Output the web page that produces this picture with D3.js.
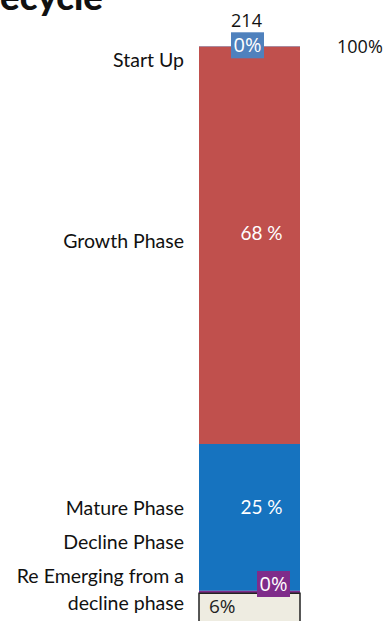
<!DOCTYPE html>
<html>
<head>
<meta charset="utf-8">
<script src="https://cdn.jsdelivr.net/npm/d3@7"></script>
<style>
  html, body { margin: 0; padding: 0; background: #fff; overflow: hidden; }
  svg { display: block; }
</style>
</head>
<body>
<div id="chart"></div>
<script>
// data
var categories = ["Start Up", "Growth Phase", "Mature Phase", "Decline Phase", "Re Emerging from a decline phase"];
var labelLines = [["Start Up"], ["Growth Phase"], ["Mature Phase"], ["Decline Phase"], ["Re Emerging from a", "decline phase"]];
var shares = [0.1, 68.2, 25.2, 0.4, 6.1];   // percent of respondents
var colors = ["#4f81bd", "#c0504d", "#1673bf", "#7f2c8a", "#eeece1"];
var responses = 214;
var totalLabel = "100%";

var w = 385, h = 621;

var svg = d3.select("#chart").append("svg")
    .attr("width", w)
    .attr("height", h);

// title, cut by the top-left edge as in the picture
var title = svg.append("text")
    .attr("y", 10)
    .attr("font-family", "Lato, 'Roboto', sans-serif")
    .attr("font-weight", 900)
    .attr("font-size", 32)
    .attr("fill", "#111");
var hidden = title.append("tspan").text("Lif");
var shown = title.append("tspan").text("ecycle");
var fs = 32 * 103 / shown.node().getComputedTextLength();
title.attr("font-size", fs);
title.attr("x", -hidden.node().getComputedTextLength());

// stack the single bar
var rows = [{}];
categories.forEach(function (c, i) { rows[0][c] = shares[i]; });
var series = d3.stack().keys(categories)(rows);

var xScale = d3.scaleBand().domain(["all"]).range([199, 300]).padding(0);
var yScale = d3.scaleLinear().domain([0, 100]).range([46, 628.7]);

var bx = xScale("all"), bw = xScale.bandwidth(), cx = bx + bw / 2;

svg.selectAll("rect.seg")
    .data(series)
    .enter().append("rect")
    .attr("class", "seg")
    .attr("x", bx)
    .attr("width", bw)
    .attr("y", function (d) { return yScale(d[0][0]); })
    .attr("height", function (d) { return yScale(d[0][1]) - yScale(d[0][0]); })
    .attr("fill", function (d, i) { return colors[i]; });

// dark outline on the last (light) segment
var last = series[series.length - 1][0];
svg.append("path")
    .attr("d", "M" + bx + "," + (yScale(100) + 2) + "V" + yScale(last[0]) + "H" + (bx + bw) + "V" + (yScale(100) + 2))
    .attr("fill", "none")
    .attr("stroke", "#222")
    .attr("stroke-width", 1.5);

// count above bar, total at right
svg.append("text")
    .attr("x", cx - 3).attr("y", 27)
    .attr("text-anchor", "middle")
    .attr("font-family", "'Open Sans', sans-serif")
    .attr("font-size", 18)
    .attr("fill", "#111")
    .text(responses);

svg.append("text")
    .attr("x", 337).attr("y", 53)
    .attr("font-family", "'Open Sans', sans-serif")
    .attr("font-size", 18)
    .attr("fill", "#111")
    .text(totalLabel);

// value labels
var fmt = function (v) { return Math.round(v) + "%"; };
series.forEach(function (s, i) {
    var d = s[0], v = shares[i];
    var mid = (yScale(d[0]) + yScale(d[1])) / 2;
    var bh = yScale(d[1]) - yScale(d[0]);
    if (bh < 10) {
        // tiny segment -> boxed label
        var boxX = i === 0 ? cx - 2 : cx + 24;
        var boxY = i === 0 ? mid - 1 : mid - 8;
        var g = svg.append("g").attr("transform", "translate(" + boxX + "," + boxY + ")");
        g.append("rect")
            .attr("x", -16.5).attr("y", -13)
            .attr("width", 33).attr("height", 26)
            .attr("fill", colors[i]);
        g.append("text")
            .attr("text-anchor", "middle")
            .attr("dy", "0.36em")
            .attr("font-family", "'Open Sans', sans-serif")
            .attr("font-size", 20)
            .attr("fill", "#fff")
            .text(fmt(v));
    } else if (i === series.length - 1) {
        svg.append("text")
            .attr("x", bx + 10).attr("y", mid - 5)
            .attr("dy", "0.36em")
            .attr("font-family", "'Open Sans', sans-serif")
            .attr("font-size", 19)
            .attr("fill", "#222")
            .text(fmt(v));
    } else {
        svg.append("text")
            .attr("x", cx + 12).attr("y", i === 2 ? mid - 10 : mid - 12)
            .attr("dy", "0.36em")
            .attr("text-anchor", "middle")
            .attr("font-family", "Lato, sans-serif")
            .attr("font-size", 19)
            .attr("fill", "#fff")
            .text(Math.round(v) + " %");
    }
});

// category labels: start at segment middles, then dodge upward from bottom
var lineH = 27, gap = 34;
var pos = series.map(function (s) { return (yScale(s[0][0]) + yScale(s[0][1])) / 2 - 4; });
pos[0] = Math.max(pos[0], yScale(0) + 14);
var firstLine = [];
var maxFirst = 576;
for (var j = pos.length - 1; j >= 0; j--) {
    var nLines = labelLines[j].length;
    var want = pos[j] - (nLines - 1) * lineH / 2;
    var limit = j === pos.length - 1 ? maxFirst : firstLine[j + 1] - gap;
    firstLine[j] = Math.min(want, limit);
}
labelLines.forEach(function (lines, i) {
    var t = svg.append("text")
        .attr("text-anchor", "end")
        .attr("font-family", "Lato, sans-serif")
        .attr("font-size", 19.5)
        .attr("fill", "#111");
    lines.forEach(function (ln, k) {
        t.append("tspan")
            .attr("x", 184)
            .attr("y", firstLine[i] + k * lineH)
            .attr("dy", "0.36em")
            .text(ln);
    });
});
</script>
</body>
</html>
